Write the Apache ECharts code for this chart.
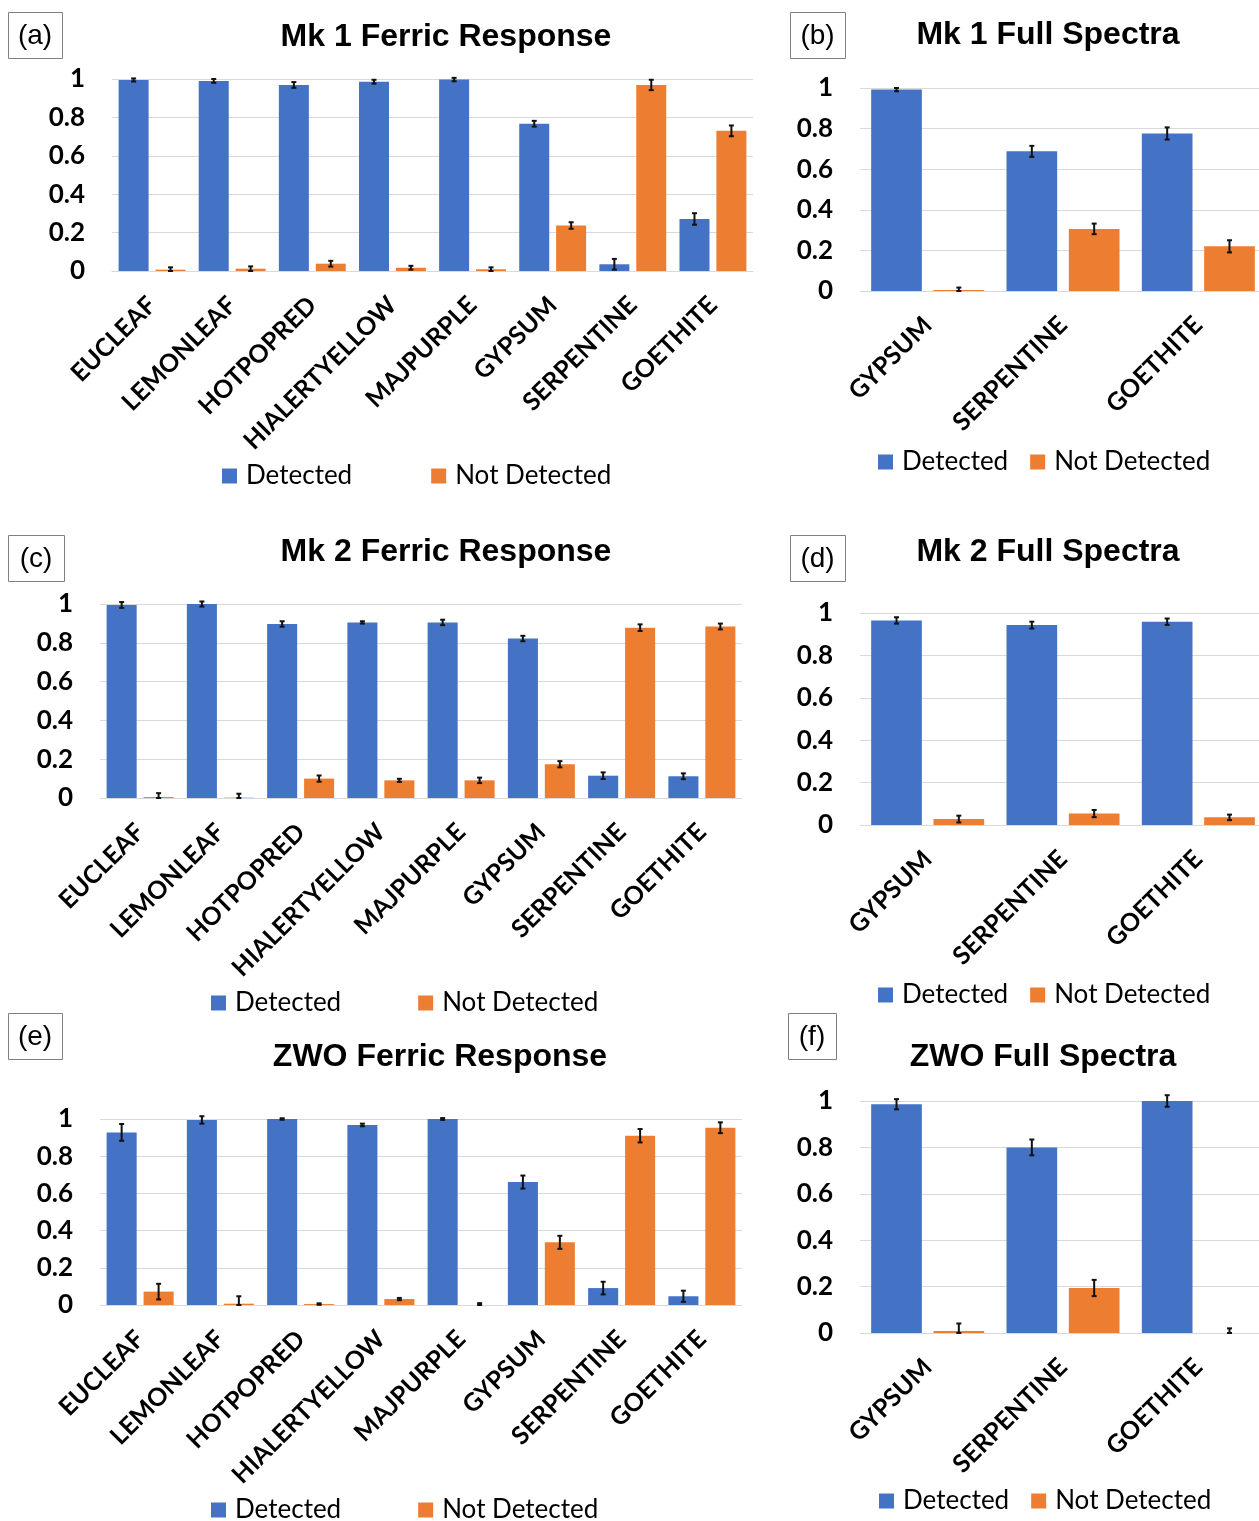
<!DOCTYPE html>
<html>
<head>
<meta charset="utf-8">
<script src="https://cdn.jsdelivr.net/npm/echarts@6/dist/echarts.min.js"></script>
<style>
  html, body { margin: 0; padding: 0; background: #ffffff; }
  #chart { width: 1259px; height: 1521px; }
</style>
</head>
<body>
<div id="chart"></div>
<script>
// ---- categories ----
const sampleCats = ['EUCLEAF', 'LEMONLEAF', 'HOTPOPRED', 'HIALERTYELLOW', 'MAJPURPLE', 'GYPSUM', 'SERPENTINE', 'GOETHITE'];
const mineralCats = ['GYPSUM', 'SERPENTINE', 'GOETHITE'];
const seriesNames = ['Detected', 'Not Detected'];
const yTicks = [0, 0.2, 0.4, 0.6, 0.8, 1];

// ---- (a) Mk 1 Ferric Response ----
const mk1FerricDetected = [0.995, 0.99, 0.969, 0.986, 0.997, 0.767, 0.035, 0.271];
const mk1FerricDetectedErr = [0.008, 0.01, 0.015, 0.01, 0.009, 0.015, 0.028, 0.03];
const mk1FerricNotDetected = [0.007, 0.012, 0.038, 0.017, 0.009, 0.237, 0.969, 0.73];
const mk1FerricNotDetectedErr = [0.012, 0.012, 0.015, 0.01, 0.01, 0.017, 0.027, 0.028];

// ---- (b) Mk 1 Full Spectra ----
const mk1FullDetected = [0.992, 0.688, 0.776];
const mk1FullDetectedErr = [0.008, 0.027, 0.03];
const mk1FullNotDetected = [0.005, 0.306, 0.22];
const mk1FullNotDetectedErr = [0.012, 0.026, 0.03];

// ---- (c) Mk 2 Ferric Response ----
const mk2FerricDetected = [0.995, 1.0, 0.897, 0.905, 0.905, 0.822, 0.115, 0.112];
const mk2FerricDetectedErr = [0.015, 0.013, 0.014, 0.006, 0.014, 0.014, 0.017, 0.015];
const mk2FerricNotDetected = [0.005, 0.002, 0.1, 0.091, 0.091, 0.174, 0.878, 0.884];
const mk2FerricNotDetectedErr = [0.02, 0.02, 0.016, 0.008, 0.014, 0.016, 0.017, 0.015];

// ---- (d) Mk 2 Full Spectra ----
const mk2FullDetected = [0.965, 0.943, 0.959];
const mk2FullDetectedErr = [0.015, 0.016, 0.015];
const mk2FullNotDetected = [0.028, 0.054, 0.036];
const mk2FullNotDetectedErr = [0.016, 0.017, 0.013];

// ---- (e) ZWO Ferric Response ----
const zwoFerricDetected = [0.928, 0.995, 1.0, 0.968, 1.0, 0.661, 0.091, 0.047];
const zwoFerricDetectedErr = [0.045, 0.02, 0.004, 0.007, 0.005, 0.035, 0.034, 0.03];
const zwoFerricNotDetected = [0.072, 0.007, 0.005, 0.032, 0, 0.337, 0.91, 0.953];
const zwoFerricNotDetectedErr = [0.042, 0.04, 0.004, 0.006, 0.01, 0.035, 0.036, 0.029];

// ---- (f) ZWO Full Spectra ----
const zwoFullDetected = [0.986, 0.8, 1.0];
const zwoFullDetectedErr = [0.022, 0.034, 0.025];
const zwoFullNotDetected = [0.009, 0.194, 0];
const zwoFullNotDetectedErr = [0.032, 0.035, 0.02];

// ---- styling ----
const BLUE = '#4472C4';
const ORANGE = '#ED7D31';
const GRID_LINE = '#d9d9d9';
const LABEL_FONT = 'Lato, "Open Sans", sans-serif';
const TITLE_FONT = '"Liberation Sans", Arial, sans-serif';
const CAT_GAP = 0.165;   // fraction of each category left empty
const BAR_GAP = 0.23;    // gap between the two bars, fraction of bar width

const panels = [
  { tag: '(a)', title: 'Mk 1 Ferric Response', cats: sampleCats,
    det: mk1FerricDetected, detErr: mk1FerricDetectedErr, nd: mk1FerricNotDetected, ndErr: mk1FerricNotDetectedErr,
    grid: { left: 112, right: 506, top: 79, height: 192 },
    titlePos: [446, 37], tagBox: [8, 12, 54, 46], legend: { left: 222, mid: 475, gap: 79 } },
  { tag: '(b)', title: 'Mk 1 Full Spectra', cats: mineralCats,
    det: mk1FullDetected, detErr: mk1FullDetectedErr, nd: mk1FullNotDetected, ndErr: mk1FullNotDetectedErr,
    grid: { left: 860, right: -7, top: 88, height: 203 },
    titlePos: [1048, 35], tagBox: [790, 12, 55, 46], legend: { left: 878, mid: 461, gap: 22 } },
  { tag: '(c)', title: 'Mk 2 Ferric Response', cats: sampleCats,
    det: mk2FerricDetected, detErr: mk2FerricDetectedErr, nd: mk2FerricNotDetected, ndErr: mk2FerricNotDetectedErr,
    grid: { left: 100, right: 517, top: 604, height: 194 },
    titlePos: [446, 552], tagBox: [8, 535, 56, 46], legend: { left: 211, mid: 1002, gap: 77 } },
  { tag: '(d)', title: 'Mk 2 Full Spectra', cats: mineralCats,
    det: mk2FullDetected, detErr: mk2FullDetectedErr, nd: mk2FullNotDetected, ndErr: mk2FullNotDetectedErr,
    grid: { left: 860, right: -7, top: 613, height: 212 },
    titlePos: [1048, 552], tagBox: [790, 535, 55, 46], legend: { left: 878, mid: 994, gap: 22 } },
  { tag: '(e)', title: 'ZWO Ferric Response', cats: sampleCats,
    det: zwoFerricDetected, detErr: zwoFerricDetectedErr, nd: zwoFerricNotDetected, ndErr: zwoFerricNotDetectedErr,
    grid: { left: 100, right: 517, top: 1119, height: 186 },
    titlePos: [440, 1057], tagBox: [8, 1013, 54, 46], legend: { left: 211, mid: 1509, gap: 77 } },
  { tag: '(f)', title: 'ZWO Full Spectra', cats: mineralCats,
    det: zwoFullDetected, detErr: zwoFullDetectedErr, nd: zwoFullNotDetected, ndErr: zwoFullNotDetectedErr,
    grid: { left: 860, right: -7, top: 1101, height: 232 },
    titlePos: [1043, 1057], tagBox: [788, 1013, 48, 46], legend: { left: 879, mid: 1500, gap: 22 } }
];

// Error bar drawn on top of the bar for the given slot (0 = left bar, 1 = right bar)
function errorBarRenderer(slot) {
  return function (params, api) {
    const cat = api.value(0);
    const v = api.value(1);
    const e = api.value(2);
    const catW = api.size([1, 0])[0];
    const inner = catW * (1 - CAT_GAP);
    const barW = inner / (2 + BAR_GAP);
    const shift = (slot === 0 ? -1 : 1) * barW * (1 + BAR_GAP) / 2;
    const hi = api.coord([cat, v + e]);
    const lo = api.coord([cat, Math.max(0, v - e)]);
    const x = hi[0] + shift;
    const cap = 2.5;
    const st = { stroke: '#111', lineWidth: 2 };
    return {
      type: 'group',
      children: [
        { type: 'line', shape: { x1: x, y1: hi[1], x2: x, y2: lo[1] }, style: st },
        { type: 'line', shape: { x1: x - cap, y1: hi[1], x2: x + cap, y2: hi[1] }, style: st },
        { type: 'line', shape: { x1: x - cap, y1: lo[1], x2: x + cap, y2: lo[1] }, style: st }
      ]
    };
  };
}

const grids = [], xAxes = [], yAxes = [], series = [], legends = [], graphics = [];

panels.forEach(function (p, i) {
  grids.push(Object.assign({ containLabel: false, outerBoundsMode: 'none' }, p.grid));
  xAxes.push({
    type: 'category', gridIndex: i, data: p.cats,
    axisTick: { show: false },
    axisLine: { show: true, lineStyle: { color: GRID_LINE, width: 1 } },
    axisLabel: { interval: 0, rotate: 45, margin: 30, color: '#000', fontFamily: LABEL_FONT, fontWeight: 'bold', fontSize: 25 }
  });
  yAxes.push({
    type: 'value', gridIndex: i, min: yTicks[0], max: yTicks[yTicks.length - 1], interval: yTicks[1] - yTicks[0],
    axisLine: { show: false }, axisTick: { show: false },
    splitLine: { lineStyle: { color: GRID_LINE, width: 1 } },
    axisLabel: { margin: 27, color: '#000', fontFamily: LABEL_FONT, fontWeight: 'bold', fontSize: 26 }
  });
  series.push({
    name: seriesNames[0], type: 'bar', xAxisIndex: i, yAxisIndex: i, data: p.det,
    itemStyle: { color: BLUE }, barGap: (BAR_GAP * 100) + '%', barCategoryGap: (CAT_GAP * 100) + '%'
  });
  series.push({
    name: seriesNames[1], type: 'bar', xAxisIndex: i, yAxisIndex: i, data: p.nd,
    itemStyle: { color: ORANGE }, barGap: (BAR_GAP * 100) + '%', barCategoryGap: (CAT_GAP * 100) + '%'
  });
  series.push({
    type: 'custom', xAxisIndex: i, yAxisIndex: i, z: 5, clip: false,
    renderItem: errorBarRenderer(0), encode: { x: 0, y: 1 },
    data: p.det.map(function (v, k) { return [k, v, p.detErr[k]]; })
  });
  series.push({
    type: 'custom', xAxisIndex: i, yAxisIndex: i, z: 5, clip: false,
    renderItem: errorBarRenderer(1), encode: { x: 0, y: 1 },
    data: p.nd.map(function (v, k) { return [k, v, p.ndErr[k]]; })
  });
  legends.push({
    data: seriesNames, left: p.legend.left, top: p.legend.mid - 12, itemGap: p.legend.gap, padding: 0,
    icon: 'rect', itemWidth: 15, itemHeight: 15, selectedMode: false,
    textStyle: { color: '#000', fontFamily: LABEL_FONT, fontSize: 26, padding: [0, 0, 0, 4] }
  });
  graphics.push({
    type: 'text', x: p.titlePos[0], y: p.titlePos[1],
    style: { text: p.title, fill: '#000', font: 'bold 32px ' + TITLE_FONT, textAlign: 'center', textVerticalAlign: 'middle' }
  });
  const b = p.tagBox;
  graphics.push({
    type: 'rect', shape: { x: b[0] + 0.5, y: b[1] + 0.5, width: b[2], height: b[3] },
    style: { fill: '#fff', stroke: '#808080', lineWidth: 1 }
  });
  graphics.push({
    type: 'text', x: b[0] + b[2] / 2, y: b[1] + b[3] / 2 + 1,
    style: { text: p.tag, fill: '#000', font: '28px ' + TITLE_FONT, textAlign: 'center', textVerticalAlign: 'middle' }
  });
});

const chart = echarts.init(document.getElementById('chart'), null, { renderer: 'canvas' });
chart.setOption({
  backgroundColor: '#ffffff',
  animation: false,
  grid: grids,
  xAxis: xAxes,
  yAxis: yAxes,
  legend: legends,
  series: series,
  graphic: graphics
});
</script>
</body>
</html>
